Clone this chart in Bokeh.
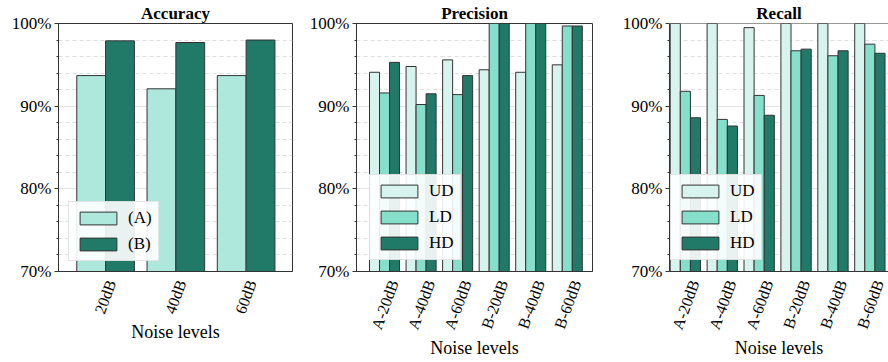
from bokeh.plotting import figure
from bokeh.models import (Range1d, FixedTicker, PrintfTickFormatter, ColumnDataSource,
                          Legend, LegendItem, Span)
from bokeh.layouts import row
from bokeh.transform import dodge
from bokeh.embed import file_html
from bokeh.resources import INLINE

# ---------------- data ----------------
acc_levels = ["20dB", "40dB", "60dB"]
acc_A = [93.7, 92.1, 93.7]
acc_B = [97.9, 97.7, 98.0]

cats = ["A-20dB", "A-40dB", "A-60dB", "B-20dB", "B-40dB", "B-60dB"]
prec_UD = [94.1, 94.8, 95.6, 94.4, 94.1, 95.0]
prec_LD = [91.6, 90.2, 91.4, 100.0, 100.0, 99.7]
prec_HD = [95.3, 91.5, 93.7, 100.0, 100.0, 99.7]

rec_UD = [100.0, 100.0, 99.5, 100.0, 100.0, 100.0]
rec_LD = [91.8, 88.4, 91.3, 96.7, 96.1, 97.5]
rec_HD = [88.6, 87.6, 88.9, 96.9, 96.7, 96.4]

y_ticks = [70, 80, 90, 100]
y_minor = [72, 74, 76, 78, 82, 84, 86, 88, 92, 94, 96, 98]

COL_A = "#aee8dd"
COL_B = "#217a68"
COL_UD = "#d6f3ee"
COL_LD = "#85dfca"
COL_HD = "#217a68"
EDGE = "#333333"
FONT = "Liberation Serif"


def make_fig(title, labels, x_start, x_end, frame_w, bl, br, label_shift):
    p = figure(frame_width=frame_w, frame_height=248, output_backend="svg",
               toolbar_location=None, x_range=Range1d(x_start, x_end),
               y_range=Range1d(70, 100), title=title,
               min_border_left=bl, min_border_right=br, min_border_top=0,
               min_border_bottom=0)
    p.title.text_font = FONT
    p.title.text_font_size = "17px"
    p.title.text_font_style = "bold"
    p.title.align = "center"
    p.title.standoff = 2
    p.title.text_color = "#000000"
    p.outline_line_color = EDGE
    p.outline_line_width = 1
    # y axis
    p.yaxis.ticker = FixedTicker(ticks=y_ticks, minor_ticks=y_minor)
    p.yaxis.formatter = PrintfTickFormatter(format="%d%%")
    p.yaxis.major_label_text_font = FONT
    p.yaxis.major_label_text_font_size = "17px"
    p.yaxis.major_label_text_color = "#000000"
    p.yaxis.major_tick_out = 4
    p.yaxis.major_tick_in = 0
    p.yaxis.minor_tick_out = 2
    p.yaxis.minor_tick_in = 0
    p.yaxis.major_label_standoff = 3
    p.yaxis.axis_line_color = EDGE
    p.yaxis.major_tick_line_color = EDGE
    p.yaxis.minor_tick_line_color = EDGE
    # x axis (label anchors nudged so rotated labels sit centred under groups)
    ticks = [i + label_shift for i in range(len(labels))]
    p.xaxis.ticker = FixedTicker(ticks=ticks)
    p.xaxis.major_label_overrides = {t: l for t, l in zip(ticks, labels)}
    p.xaxis.major_label_orientation = 1.2217
    p.xaxis.major_label_text_font = FONT
    p.xaxis.major_label_text_font_size = "16px"
    p.xaxis.major_label_text_color = "#000000"
    p.xaxis.major_tick_line_color = None
    p.xaxis.minor_tick_line_color = None
    p.xaxis.axis_line_color = EDGE
    p.xaxis.major_label_standoff = 3
    p.xaxis.axis_label = "Noise levels"
    p.xaxis.axis_label_text_font = FONT
    p.xaxis.axis_label_text_font_size = "18px"
    p.xaxis.axis_label_text_font_style = "normal"
    p.xaxis.axis_label_text_color = "#000000"
    p.xaxis.axis_label_standoff = 0
    # grids
    p.xgrid.grid_line_color = None
    p.ygrid.grid_line_color = "#e3e3e3"
    p.ygrid.grid_line_width = 1
    p.ygrid.minor_grid_line_color = "#dedede"
    p.ygrid.minor_grid_line_dash = "4 3"
    p.ygrid.minor_grid_line_width = 1
    return p


def add_legend(p, items, loc):
    leg = Legend(items=items, location=loc)
    leg.label_text_font = FONT
    leg.label_text_font_size = "17px"
    leg.label_text_color = "#000000"
    leg.glyph_width = 46
    leg.glyph_height = 16
    leg.label_height = 17
    leg.spacing = 6
    leg.padding = 6
    leg.margin = 0
    leg.label_standoff = 7
    leg.border_line_color = "#cccccc"
    leg.border_line_width = 1
    leg.background_fill_color = "white"
    leg.background_fill_alpha = 0.9
    p.add_layout(leg)


# ---------------- Accuracy ----------------
p1 = make_fig("Accuracy", acc_levels, -0.67, 2.66, 234, 58, 4, 0.08)
s1 = ColumnDataSource(dict(x=list(range(len(acc_levels))), A=acc_A, B=acc_B))
ra = p1.vbar(x=dodge("x", -0.205, range=p1.x_range), top="A", bottom=70, width=0.41,
             source=s1, fill_color=COL_A, line_color=EDGE, line_width=1)
rb = p1.vbar(x=dodge("x", 0.205, range=p1.x_range), top="B", bottom=70, width=0.41,
             source=s1, fill_color=COL_B, line_color=EDGE, line_width=1)
add_legend(p1, [LegendItem(label="(A)", renderers=[ra]),
                LegendItem(label="(B)", renderers=[rb])], (10, 10))


def three_bar(p, ud, ld, hd, loc):
    s = ColumnDataSource(dict(x=list(range(len(cats))), UD=ud, LD=ld, HD=hd))
    w = 0.274
    r1 = p.vbar(x=dodge("x", -w, range=p.x_range), top="UD", bottom=70, width=w,
                source=s, fill_color=COL_UD, line_color=EDGE, line_width=1)
    r2 = p.vbar(x=dodge("x", 0.0, range=p.x_range), top="LD", bottom=70, width=w,
                source=s, fill_color=COL_LD, line_color=EDGE, line_width=1)
    r3 = p.vbar(x=dodge("x", w, range=p.x_range), top="HD", bottom=70, width=w,
                source=s, fill_color=COL_HD, line_color=EDGE, line_width=1)
    add_legend(p, [LegendItem(label="UD", renderers=[r1]),
                   LegendItem(label="LD", renderers=[r2]),
                   LegendItem(label="HD", renderers=[r3])], loc)


# ---------------- Precision ----------------
p2 = make_fig("Precision", cats, -0.767, 5.69, 236, 60, 10, 0.25)
three_bar(p2, prec_UD, prec_LD, prec_HD, (13, 11))

# ---------------- Recall ----------------
p3 = make_fig("Recall", cats, -0.43, -0.43 + 219 / 36.9, 219, 67, 0, 0.25)
three_bar(p3, rec_UD, rec_LD, rec_HD, (1, 11))
p3.outline_line_color = None
p3.add_layout(Span(location=100, dimension="width", line_color=EDGE, line_width=1))

layout = row(p1, p2, p3)
open("out.html", "w").write(file_html(layout, INLINE))
